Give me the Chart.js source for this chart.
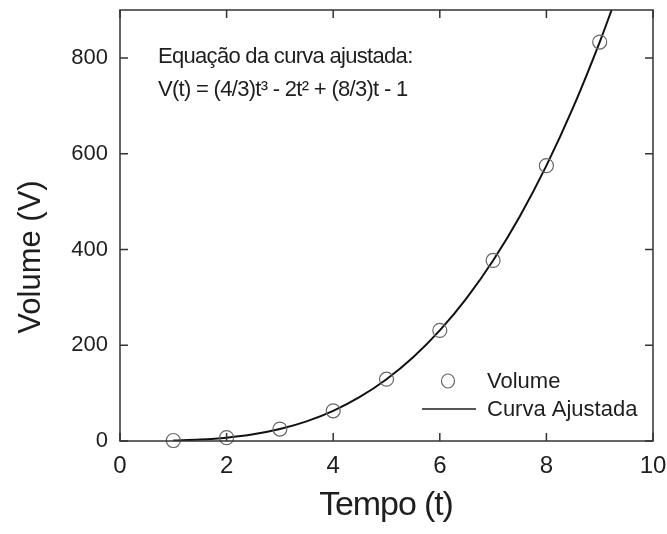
<!DOCTYPE html>
<html lang="pt">
<head>
<meta charset="UTF-8">
<title>Volume x Tempo</title>
<script src="https://cdn.jsdelivr.net/npm/chart.js"></script>
<style>
  html, body { margin: 0; padding: 0; background: #fff; }
  #wrap { width: 667px; height: 534px; }
</style>
</head>
<body>
<div id="wrap"><canvas id="volumeChart" width="667" height="534"></canvas></div>
<script>
// medidas (pontos)
const tempo = [1, 2, 3, 4, 5, 6, 7, 8, 9];
const volume = [1, 7, 25, 63, 129, 231, 377, 575, 833];

// curva ajustada
const curvaT = [1, 1.5, 2, 2.5, 3, 3.5, 4, 4.5, 5, 5.5, 6, 6.5, 7, 7.5, 8, 8.5, 9, 9.25];
const curvaV = [1, 3, 7, 14, 25, 41, 63, 92, 129, 175, 231, 298, 377, 469, 575, 696, 833, 908];

const xTicks = [0, 2, 4, 6, 8, 10];
const yTicks = [0, 200, 400, 600, 800];

const fontFam = '"Liberation Sans", Arial, sans-serif';
const ink = '#1e1e1e';

// moldura com ticks para dentro, titulos, texto da equacao e legenda
const framePlugin = {
  id: 'frame',
  afterDraw(chart) {
    const { ctx, chartArea: a, scales: { x, y } } = chart;
    ctx.save();
    ctx.strokeStyle = '#333';
    ctx.lineWidth = 1.5;
    ctx.strokeRect(a.left, a.top, a.right - a.left, a.bottom - a.top);
    const tl = 8;
    ctx.beginPath();
    xTicks.forEach(v => {
      const px = x.getPixelForValue(v);
      ctx.moveTo(px, a.bottom); ctx.lineTo(px, a.bottom - tl);
      ctx.moveTo(px, a.top); ctx.lineTo(px, a.top + tl);
    });
    yTicks.forEach(v => {
      const py = y.getPixelForValue(v);
      ctx.moveTo(a.left, py); ctx.lineTo(a.left + tl, py);
      ctx.moveTo(a.right, py); ctx.lineTo(a.right - tl, py);
    });
    ctx.stroke();

    ctx.fillStyle = ink;
    ctx.textAlign = 'left';
    ctx.textBaseline = 'alphabetic';

    // equacao
    ctx.font = '22px ' + fontFam;
    ctx.letterSpacing = '-0.7px';
    ctx.fillText('Equação da curva ajustada:', 158, 63);
    ctx.fillText('V(t) = (4/3)t³ - 2t² + (8/3)t - 1', 158, 96);

    // legenda
    ctx.letterSpacing = '0px';
    ctx.textBaseline = 'middle';
    ctx.font = '22px ' + fontFam;
    ctx.strokeStyle = '#666';
    ctx.lineWidth = 1.2;
    ctx.beginPath();
    ctx.ellipse(448, 381, 6.5, 7, 0, 0, Math.PI * 2);
    ctx.stroke();
    ctx.fillText('Volume', 487, 382);
    ctx.strokeStyle = ink;
    ctx.lineWidth = 1.5;
    ctx.beginPath();
    ctx.moveTo(422, 409); ctx.lineTo(476, 409);
    ctx.stroke();
    ctx.fillText('Curva Ajustada', 487, 410);

    // titulos dos eixos
    ctx.textAlign = 'center';
    ctx.font = '34px ' + fontFam;
    ctx.letterSpacing = '-1.1px';
    ctx.fillText('Tempo (t)', 386, 506);
    ctx.translate(31, 257);
    ctx.rotate(-Math.PI / 2);
    ctx.font = '31px ' + fontFam;
    ctx.letterSpacing = '0px';
    ctx.fillText('Volume (V)', 0, 0);
    ctx.restore();
  }
};

new Chart(document.getElementById('volumeChart'), {
  type: 'scatter',
  data: {
    datasets: [
      {
        label: 'Volume',
        data: tempo.map((t, i) => ({ x: t, y: volume[i] })),
        pointStyle: 'circle',
        pointRadius: 7,
        pointBorderWidth: 1.2,
        pointBorderColor: '#666',
        pointBackgroundColor: 'rgba(0,0,0,0)',
        clip: false
      },
      {
        label: 'Curva Ajustada',
        data: curvaT.map((t, i) => ({ x: t, y: curvaV[i] })),
        showLine: true,
        pointRadius: 0,
        borderColor: '#111',
        borderWidth: 2,
        cubicInterpolationMode: 'monotone'
      }
    ]
  },
  options: {
    responsive: false,
    animation: false,
    layout: { padding: { top: 10, right: 14, left: 0, bottom: 0 } },
    plugins: {
      legend: { display: false },
      tooltip: { enabled: false }
    },
    scales: {
      x: {
        type: 'linear',
        min: 0, max: 10,
        grid: { display: false, drawTicks: false },
        border: { display: false },
        ticks: { stepSize: 2, color: ink, padding: 11, font: { family: fontFam, size: 24 } },
        afterFit(s) { s.height = 93; s.paddingLeft = 0; s.paddingRight = 0; }
      },
      y: {
        type: 'linear',
        min: 0, max: 900,
        grid: { display: false, drawTicks: false },
        border: { display: false },
        afterBuildTicks(s) { s.ticks = yTicks.map(v => ({ value: v })); },
        ticks: { color: ink, padding: 12, font: { family: fontFam, size: 22 } },
        afterFit(s) { s.width = 120; s.paddingTop = 0; s.paddingBottom = 0; }
      }
    }
  },
  plugins: [framePlugin]
});
</script>
</body>
</html>
